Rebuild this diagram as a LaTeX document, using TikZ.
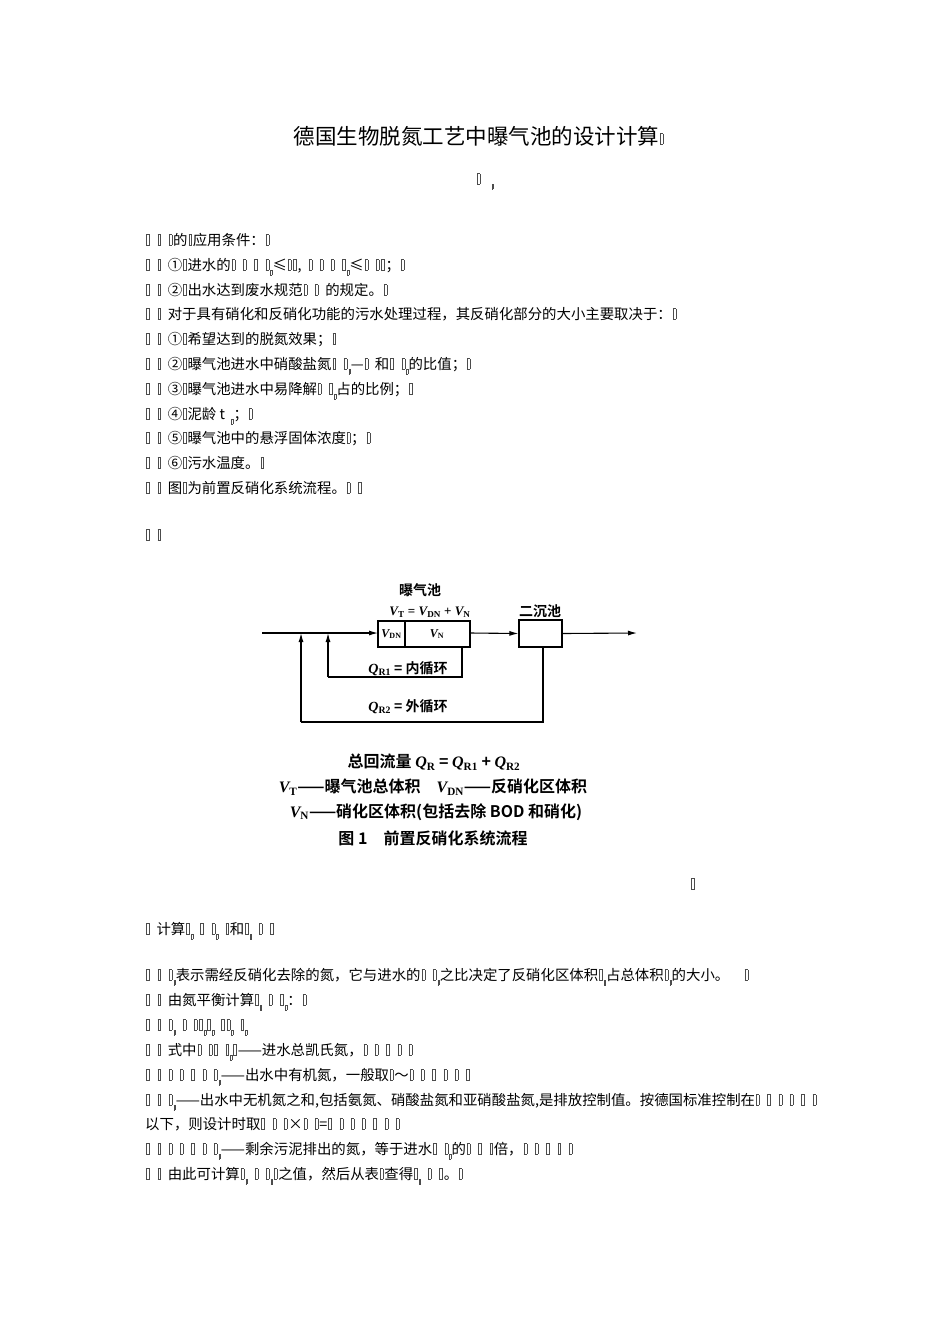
\documentclass[tikz,border=0pt]{standalone}
\usepackage{fontspec}
\setmainfont{Liberation Serif}
\newfontfamily\cjk{Noto Sans CJK SC}
\newfontfamily\cjkb{Noto Sans CJK SC Bold}
\newfontfamily\lsr{Liberation Serif}
\usetikzlibrary{arrows.meta}
\newcommand\bx{\kern1pt{\color{black!70}\vbox{\hrule height.35pt\hbox{\vrule width.35pt height10pt depth0pt\kern2.6pt\vrule width.35pt}\hrule height.35pt}}\kern1pt}
\newcommand\sbx{\raisebox{-5pt}{\scalebox{.5}{\bx{}}}}
\newcommand\gap{\hspace{6pt}}
\newcommand\mv[2]{{\lsr\bfseries\itshape #1\textsubscript{\upshape #2}}}
\tikzset{txt/.style={anchor=base west,inner sep=0pt,font=\cjk\fontsize{14.4}{14.4}\selectfont},
 dg/.style={inner sep=0pt,font=\cjkb\fontsize{14}{14}\selectfont},
 captxt/.style={inner sep=0pt,font=\cjkb\fontsize{16}{16}\selectfont},
 ln/.style={line width=1.1pt},
 ar/.style={ln,-{Latex[length=9pt,width=5pt]}}}
\begin{document}
\begin{tikzpicture}[x=1pt,y=-1pt]
\useasboundingbox[fill=white] (0,0) rectangle (950,1344);
\node[anchor=base,inner sep=0pt,font=\cjk\fontsize{21.5}{21.5}\selectfont] (title) at (479,144) {德国生物脱氮工艺中曝气池的设计计算\bx{}};
\node[anchor=base,inner sep=0pt,font=\cjk\fontsize{14}{14}\selectfont] (auth) at (485,184) {\bx{}\kern10pt\sbx{}};
\node[txt] (l1) at (145,245) {\bx{}\gap{}\bx{}\gap{}\bx{}的\bx{}应用条件：\bx{}};
\node[txt] (l2) at (145,270) {\bx{}\gap{}\bx{}\gap{}①\bx{}进水的\bx{}\gap{}\bx{}\gap{}\bx{}\gap{}\bx{}\sbx{}≤\bx{}\bx{},\gap{}\bx{}\gap{}\bx{}\gap{}\bx{}\gap{}\bx{}\sbx{}≤\bx{}\gap{}\bx{}\bx{}；\bx{}};
\node[txt] (l3) at (145,295) {\bx{}\gap{}\bx{}\gap{}②\bx{}出水达到废水规范\bx{}\gap{}\bx{}\gap{}的规定。\bx{}};
\node[txt] (l4) at (145,319) {\bx{}\gap{}\bx{}\gap{}对于具有硝化和反硝化功能的污水处理过程，其反硝化部分的大小主要取决于：\bx{}};
\node[txt] (l5) at (145,344) {\bx{}\gap{}\bx{}\gap{}①\bx{}希望达到的脱氮效果；\bx{}};
\node[txt] (l6) at (145,369) {\bx{}\gap{}\bx{}\gap{}②\bx{}曝气池进水中硝酸盐氮\bx{}\gap{}\bx{}\sbx{}—\bx{}\gap{}和\bx{}\gap{}\bx{}\sbx{}的比值；\bx{}};
\node[txt] (l7) at (145,394) {\bx{}\gap{}\bx{}\gap{}③\bx{}曝气池进水中易降解\bx{}\gap{}\bx{}\sbx{}占的比例；\bx{}};
\node[txt] (l8) at (145,419) {\bx{}\gap{}\bx{}\gap{}④\bx{}泥龄 t\gap{}\sbx{}；\bx{}};
\node[txt] (l9) at (145,443) {\bx{}\gap{}\bx{}\gap{}⑤\bx{}曝气池中的悬浮固体浓度\bx{}；\bx{}};
\node[txt] (l10) at (145,468) {\bx{}\gap{}\bx{}\gap{}⑥\bx{}污水温度。\bx{}};
\node[txt] (l11) at (145,493) {\bx{}\gap{}\bx{}\gap{}图\bx{}为前置反硝化系统流程。\bx{}\gap{}\bx{}};
\node[txt] (l12) at (145,540) {\bx{}\gap{}\bx{}};
% diagram
\node[dg] (lab1) at (420,590) {曝气池};
\node[dg,font=\lsr\bfseries\fontsize{13}{13}\selectfont] (vt) at (430,612) {\mv{V}{T} = \mv{V}{DN} + \mv{V}{N}};
\draw[ln] (378,621) rectangle (470,647);
\draw[ln] (405,621) -- (405,647);
\node[dg,font=\lsr\bfseries\fontsize{12}{12}\selectfont] (vdn) at (391.5,634) {\mv{V}{DN}};
\node[dg,font=\lsr\bfseries\fontsize{12}{12}\selectfont] (vn) at (437,634) {\mv{V}{N}};
\coordinate (tankin) at (378,633);
\coordinate (tankout) at (470,633);
\node[dg] (lab2) at (540,611) {二沉池};
\node[draw,line width=1.1pt,minimum width=43pt,minimum height=27pt,inner sep=0pt] (sed) at (540.5,633.5) {};
\coordinate (start) at (262,633);
\coordinate (endp) at (637,633);
\draw[ar] (start) -- (tankin);
\draw[ar] (tankout) -- (sed.west);
\draw[ar] (sed.east) -- (endp);
\coordinate (i1) at (462,647);
\coordinate (i2) at (462,677);
\coordinate (i3) at (328,677);
\coordinate (i4) at (328,633);
\draw[ln] (i1) -- (i2) -- (i3);
\draw[ar] (i3) -- (i4);
\coordinate (o1) at (543,647);
\coordinate (o2) at (543,722);
\coordinate (o3) at (301,722);
\coordinate (o4) at (301,633);
\draw[ln] (o1) -- (o2) -- (o3);
\draw[ar] (o3) -- (o4);
\node[dg] (q1) at (408,669) {\mv{Q}{R1} = 内循环};
\node[dg] (q2) at (408,707) {\mv{Q}{R2} = 外循环};
\node[captxt] (c1) at (434,762) {总回流量 \mv{Q}{R} = \mv{Q}{R1} + \mv{Q}{R2}};
\node[captxt] (c2) at (433,787) {\mv{V}{T}——曝气池总体积\quad \mv{V}{DN}——反硝化区体积};
\node[captxt] (c3) at (436,812) {\mv{V}{N}——硝化区体积(包括去除 BOD 和硝化)};
\node[captxt] (c4) at (433,838) {图 1\quad 前置反硝化系统流程};
% lower text
\node[txt] (m0) at (690,889) {\bx{}};
\node[txt] (m1) at (145,934) {\bx{}\gap{}计算\bx{}\sbx{}\gap{}\bx{}\gap{}\bx{}\sbx{}\gap{}\bx{}和\bx{}\sbx{}\gap{}\bx{}\gap{}\bx{}};
\node[txt] (m2) at (145,980) {\bx{}\gap{}\bx{}\gap{}\bx{}\sbx{}表示需经反硝化去除的氮，它与进水的\bx{}\gap{}\bx{}\sbx{}之比决定了反硝化区体积\bx{}\sbx{}占总体积\bx{}\sbx{}的大小。\quad\bx{}};
\node[txt] (m3) at (145,1005) {\bx{}\gap{}\bx{}\gap{}由氮平衡计算\bx{}\sbx{}\gap{}\bx{}\gap{}\bx{}\sbx{}：\bx{}};
\node[txt] (m4) at (145,1030) {\bx{}\gap{}\bx{}\gap{}\bx{}\sbx{}\gap{}\bx{}\gap{}\bx{}\bx{}\sbx{}\bx{}\sbx{}\gap{}\bx{}\bx{}\sbx{}\gap{}\bx{}\sbx{}};
\node[txt] (m5) at (145,1055) {\bx{}\gap{}\bx{}\gap{}式中\bx{}\gap{}\bx{}\bx{}\gap{}\bx{}\sbx{}\bx{}——进水总凯氏氮，\bx{}\gap{}\bx{}\gap{}\bx{}\gap{}\bx{}\gap{}\bx{}};
\node[txt] (m6) at (145,1080) {\bx{}\gap{}\bx{}\gap{}\bx{}\gap{}\bx{}\gap{}\bx{}\gap{}\bx{}\gap{}\bx{}\sbx{}——出水中有机氮，一般取\bx{}～\bx{}\gap{}\bx{}\gap{}\bx{}\gap{}\bx{}\gap{}\bx{}\gap{}\bx{}};
\node[txt] (m7) at (145,1105) {\bx{}\gap{}\bx{}\gap{}\bx{}\sbx{}——出水中无机氮之和,包括氨氮、硝酸盐氮和亚硝酸盐氮,是排放控制值。按德国标准控制在\bx{}\gap{}\bx{}\gap{}\bx{}\gap{}\bx{}\gap{}\bx{}\gap{}\bx{}};
\node[txt] (m8) at (145,1129) {以下，则设计时取\bx{}\gap{}\bx{}\gap{}\bx{}×\bx{}\gap{}\bx{}=\bx{}\gap{}\bx{}\gap{}\bx{}\gap{}\bx{}\gap{}\bx{}\gap{}\bx{}\gap{}\bx{}};
\node[txt] (m9) at (145,1154) {\bx{}\gap{}\bx{}\gap{}\bx{}\gap{}\bx{}\gap{}\bx{}\gap{}\bx{}\gap{}\bx{}\sbx{}——剩余污泥排出的氮，等于进水\bx{}\gap{}\bx{}\sbx{}的\bx{}\gap{}\bx{}\gap{}\bx{}倍，\bx{}\gap{}\bx{}\gap{}\bx{}\gap{}\bx{}\gap{}\bx{}};
\node[txt] (m10) at (145,1179) {\bx{}\gap{}\bx{}\gap{}由此可计算\bx{}\sbx{}\gap{}\bx{}\gap{}\bx{}\sbx{}\bx{}之值，然后从表\bx{}查得\bx{}\sbx{}\gap{}\bx{}\gap{}\bx{}。\bx{}};
\end{tikzpicture}
\end{document}
